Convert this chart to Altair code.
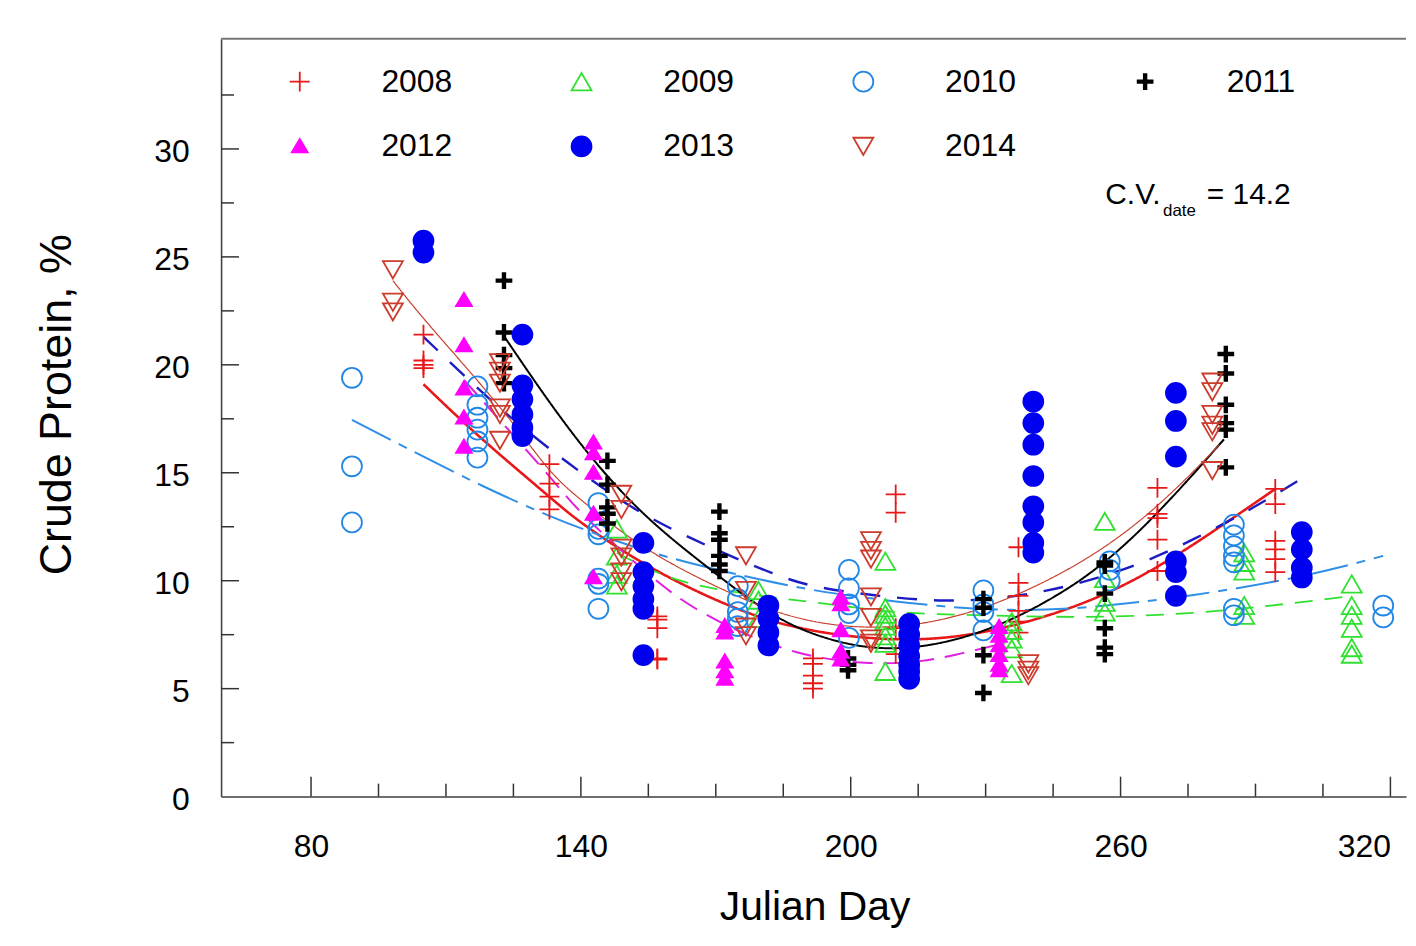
import altair as alt
import pandas as pd

FONT = "Liberation Sans"
YEARS = ["2008", "2009", "2010", "2011", "2012", "2013", "2014"]

# ---- observed data (Julian day, crude protein %) ----
DAY_2008 = [105, 133, 157, 191.6, 210, 237.3, 268.2, 294.4]
CP_2008 = [[21.4, 20.2, 20.0, 19.85], [15.4, 14.5, 13.9, 13.3], [8.35, 8.2, 7.8, 6.4, 6.35],
           [6.4, 6.15, 5.6, 5.25, 5.0], [14.0, 13.15, 7.8, 6.6], [11.55, 9.9, 9.3, 8.6, 8.1, 7.6],
           [14.3, 13.1, 12.9, 11.9, 10.45], [14.25, 13.55, 11.85, 11.45, 11.0, 10.4]]

DAY_2009 = [148, 179.5, 207.7, 235.8, 256.5, 287.5, 311.4]
CP_2009 = [[12.4, 11.15, 10.3, 9.8], [9.55, 9.1, 8.25], [10.9, 8.75, 8.45, 8.15, 7.9, 7.45, 7.1, 5.8],
           [8.1, 7.7, 7.3, 6.85, 5.7], [12.75, 10.1, 9.0, 8.55], [11.3, 10.85, 10.45, 8.85, 8.4],
           [9.85, 8.85, 8.4, 7.8, 6.9, 6.6]]

DAY_2010 = [89.1, 117, 143.9, 174.9, 199.6, 229.5, 257.6, 285.2, 318.4]
CP_2010 = [[19.4, 15.3, 12.7], [19.0, 18.15, 17.55, 17.0, 16.45, 15.7], [13.6, 12.4, 12.15, 10.1, 9.85, 8.7],
           [9.75, 9.15, 8.55, 8.25, 7.9], [10.5, 9.65, 8.9, 8.5, 7.35], [9.55, 8.9, 8.55, 7.7],
           [10.9, 10.5, 10.0], [12.6, 12.1, 11.6, 11.15, 10.85, 8.7, 8.4], [8.85, 8.3]]

DAY_2011 = [122.9, 145.9, 170.8, 199.4, 229.5, 256.5, 283.4]
CP_2011 = [[23.9, 21.5, 20.45, 19.85, 19.15], [15.55, 14.45, 13.4, 13.1, 12.65],
           [13.2, 12.2, 11.9, 11.15, 10.75, 10.45], [6.4, 6.1, 5.85], [9.15, 8.75, 6.55, 4.8],
           [10.85, 10.7, 9.4, 7.8, 6.9, 6.6], [20.5, 19.6, 18.15, 17.3, 17.0, 15.25]]

DAY_2012 = [114, 142.8, 172, 197.8, 233]
CP_2012 = [[23.0, 20.9, 18.9, 17.55, 16.2], [16.4, 15.9, 15.0, 13.1, 10.15], [7.9, 7.6, 6.25, 5.8, 5.45],
           [9.2, 8.9, 7.7, 6.7, 6.35], [7.85, 7.45, 7.0, 6.55, 6.1, 5.85]]

DAY_2013 = [105, 127, 153.9, 181.7, 213, 240.6, 272.3, 300.3]
CP_2013 = [[25.75, 25.2], [21.4, 19.05, 18.4, 17.7, 17.1, 16.7], [11.75, 10.4, 9.75, 9.15, 8.7, 6.55],
           [8.85, 8.25, 7.6, 7.0], [8.0, 7.5, 7.0, 6.5, 6.1, 5.8, 5.45],
           [18.3, 17.3, 16.3, 14.85, 13.45, 12.7, 11.75, 11.3], [18.7, 17.4, 15.75, 10.9, 10.4, 9.3],
           [12.25, 11.45, 10.6, 10.15]]

DAY_2014 = [98.2, 122, 149, 176.7, 204.5, 239.5, 280.4]
CP_2014 = [[24.4, 22.9, 22.45], [20.1, 19.7, 19.15, 18.0, 17.7, 16.5], [14.0, 13.3, 11.5, 11.1, 10.4, 9.95],
           [11.15, 9.55, 7.85, 7.45], [11.85, 11.4, 11.0, 9.25, 8.3, 7.3, 7.1], [6.15, 5.85, 5.6],
           [19.2, 18.75, 17.7, 17.2, 16.9, 15.1]]

# ---- fitted curves ----
FIT_DAY_2008 = [105, 117, 133, 139, 154, 172, 188, 210, 229, 252, 268, 281.5, 294.4]
FIT_CP_2008 = [19.1, 16.7, 13.9, 12.8, 10.7, 8.85, 7.7, 7.15, 7.45, 8.85, 10.55, 12.4, 14.25]
FIT_DAY_2009 = [148, 157.5, 168.6, 187.5, 201.8, 210, 229, 251, 276.3, 300.3, 311.4]
FIT_CP_2009 = [11.3, 10.25, 9.6, 9.1, 8.75, 8.5, 8.4, 8.28, 8.45, 9.0, 9.3]
FIT_DAY_2010 = [89.1, 100.7, 117.7, 136.9, 157.5, 172.3, 190.8, 205.5, 220, 235, 252, 276.3, 300.3, 318.4]
FIT_CP_2010 = [17.45, 16.2, 14.4, 12.6, 11.15, 10.4, 9.55, 9.15, 8.8, 8.6, 8.7, 9.3, 10.15, 11.15]
FIT_DAY_2011 = [123, 138, 153, 168.6, 183.4, 197, 210, 229, 252, 268, 283]
FIT_CP_2011 = [21.3, 16.7, 13.1, 10.55, 8.15, 7.1, 6.7, 7.4, 9.9, 13.0, 16.55]
FIT_DAY_2012 = [114, 126, 134, 140, 150, 160, 170, 188, 205, 216, 223, 232]
FIT_CP_2012 = [19.3, 16.5, 14.6, 13.1, 11.2, 9.4, 8.1, 6.5, 6.1, 6.25, 6.55, 7.0]
FIT_DAY_2013 = [105, 122, 137, 152.4, 168.6, 183.4, 191.5, 205.5, 221, 235, 248.3, 263.8, 276.3, 290.3, 300]
FIT_CP_2013 = [21.3, 17.9, 15.45, 13.15, 11.55, 10.25, 9.7, 9.3, 9.0, 9.2, 9.7, 10.7, 11.9, 13.45, 14.7]
FIT_DAY_2014 = [98.2, 105, 123, 133, 139, 154, 172, 188, 208, 229, 252, 268, 282]
FIT_CP_2014 = [23.9, 22.1, 17.9, 15.0, 13.9, 11.4, 9.5, 8.1, 7.65, 8.5, 10.8, 13.3, 16.3]

X_LABELS = [80, 140, 200, 260, 320]
X_MINOR = [95, 110, 125, 155, 170, 185, 215, 230, 245, 275, 290, 305]
Y_LABELS = [0, 5, 10, 15, 20, 25, 30]
Y_MAJOR = [5, 10, 15, 20, 25, 30]
Y_MINOR = [2.5, 7.5, 12.5, 17.5, 22.5, 27.5, 32.5]

# ---- styles ----
PLUS_THIN = "M-1,0L1,0M0,-1L0,1"
PLUS_THICK = ("M-0.75,-0.13L-0.13,-0.13L-0.13,-0.75L0.13,-0.75L0.13,-0.13L0.75,-0.13"
              "L0.75,0.13L0.13,0.13L0.13,0.75L-0.13,0.75L-0.13,0.13L-0.75,0.13Z")
TRI_SMALL = "M0,-0.74L0.8,0.6L-0.8,0.6Z"
SHAPES = [PLUS_THIN, "triangle-up", "circle", PLUS_THICK, TRI_SMALL, "circle", "triangle-down"]
FILLS = ["transparent", "transparent", "transparent", "#000000", "#FF00FF", "#0000F0", "transparent"]
STROKES = ["#E81818", "#30E030", "#2187E7", "#000000", "#FF00FF", "#0000F0", "#CC3B2B"]
LINE_STYLE = {
    "2008": dict(color="#E81818", strokeWidth=2.6, strokeDash=[1, 0]),
    "2009": dict(color="#30E030", strokeWidth=1.8, strokeDash=[18, 12]),
    "2010": dict(color="#2F8FE6", strokeWidth=2.0, strokeDash=[44, 9, 9, 9]),
    "2011": dict(color="#000000", strokeWidth=2.0, strokeDash=[1, 0]),
    "2012": dict(color="#E020E0", strokeWidth=2.0, strokeDash=[20, 11]),
    "2013": dict(color="#1C1CC4", strokeWidth=2.4, strokeDash=[20, 17]),
    "2014": dict(color="#C8402E", strokeWidth=1.2, strokeDash=[1, 0]),
}

obs = {"2008": (DAY_2008, CP_2008), "2009": (DAY_2009, CP_2009), "2010": (DAY_2010, CP_2010),
       "2011": (DAY_2011, CP_2011), "2012": (DAY_2012, CP_2012), "2013": (DAY_2013, CP_2013),
       "2014": (DAY_2014, CP_2014)}
fits = {"2008": (FIT_DAY_2008, FIT_CP_2008), "2009": (FIT_DAY_2009, FIT_CP_2009),
        "2010": (FIT_DAY_2010, FIT_CP_2010), "2011": (FIT_DAY_2011, FIT_CP_2011),
        "2012": (FIT_DAY_2012, FIT_CP_2012), "2013": (FIT_DAY_2013, FIT_CP_2013),
        "2014": (FIT_DAY_2014, FIT_CP_2014)}

rows = []
for yr in YEARS:
    days, groups = obs[yr]
    for d, vals in zip(days, groups):
        for v in vals:
            rows.append({"year": yr, "day": d, "cp": v})
pts = pd.DataFrame(rows)

frows = []
for yr in YEARS:
    for d, v in zip(*fits[yr]):
        frows.append({"year": yr, "day": d, "cp": v})
fit_df = pd.DataFrame(frows)

# ---- layout ----
W, H = 1190, 761
PX_PER_DAY = 271 / 60
X_MIN = 60
X_MAX = X_MIN + W / PX_PER_DAY

xscale = alt.Scale(domain=[X_MIN, X_MAX], nice=False, zero=False)
yscale = alt.Scale(domain=[0, 35.1], nice=False, zero=False)

xaxis = alt.Axis(values=X_LABELS, ticks=False, tickSize=0, grid=False, domainColor="#6E6E6E",
                 domainWidth=2, labelFontSize=32, labelFont=FONT, labelColor="black",
                 labelPadding=35, labelFlush=16, labelOverlap=False,
                 title="Julian Day", titleFont=FONT, titleFontSize=41, titleFontWeight="normal",
                 titleColor="black", titleX=596, titleY=123, titleAlign="center",
                 titleBaseline="alphabetic")
yaxis = alt.Axis(values=Y_LABELS, ticks=False, tickSize=0, grid=False, domainColor="#444444",
                 domainWidth=1.6, labelFontSize=32, labelFont=FONT, labelColor="black",
                 labelPadding=32, labelOffset=3, labelFlush=False, labelOverlap=False,
                 title="Crude Protein, %", titleFont=FONT, titleFontSize=45,
                 titleFontWeight="normal", titleColor="black", titleAngle=270,
                 titleX=-165, titleY=367, titleAlign="center", titleBaseline="middle")

X = alt.X("day:Q", scale=xscale, axis=xaxis)
Y = alt.Y("cp:Q", scale=yscale, axis=yaxis)

leg = alt.Legend(title=None, orient="none", legendX=63, legendY=27, direction="horizontal",
                 columns=4, symbolSize=400, symbolStrokeWidth=1.8, symbolOpacity=1,
                 labelFontSize=32, labelFont=FONT, labelColor="black", labelOffset=66,
                 columnPadding=113, rowPadding=33, padding=0)

layers = []
for yr in YEARS:
    st = LINE_STYLE[yr]
    layers.append(
        alt.Chart(fit_df).transform_filter(alt.datum.year == yr)
        .mark_line(interpolate="basis", clip=True, **st)
        .encode(x=X, y=Y)
    )

points = alt.Chart(pts).mark_point(opacity=1, strokeWidth=1.8, size=400, clip=True).encode(
    x=X, y=Y,
    shape=alt.Shape("year:N", scale=alt.Scale(domain=YEARS, range=SHAPES), legend=leg),
    fill=alt.Fill("year:N", scale=alt.Scale(domain=YEARS, range=FILLS), legend=leg),
    stroke=alt.Stroke("year:N", scale=alt.Scale(domain=YEARS, range=STROKES), legend=leg),
)
layers.append(points)

tick_col = "#333333"
layers.append(alt.Chart(pd.DataFrame({"day": X_LABELS})).mark_rule(color=tick_col, strokeWidth=1.5)
              .encode(x=X, y=alt.value(H), y2=alt.value(H - 20)))
layers.append(alt.Chart(pd.DataFrame({"day": X_MINOR})).mark_rule(color=tick_col, strokeWidth=1.5)
              .encode(x=X, y=alt.value(H), y2=alt.value(H - 13)))
layers.append(alt.Chart(pd.DataFrame({"cp": Y_MAJOR})).mark_rule(color=tick_col, strokeWidth=1.5)
              .encode(y=Y, x=alt.value(0), x2=alt.value(18)))
layers.append(alt.Chart(pd.DataFrame({"cp": Y_MINOR})).mark_rule(color=tick_col, strokeWidth=1.5)
              .encode(y=Y, x=alt.value(0), x2=alt.value(13)))

one = pd.DataFrame({"k": [0]})
layers.append(alt.Chart(one).mark_rule(color="#777777", strokeWidth=2)
              .encode(x=alt.value(0), x2=alt.value(W), y=alt.value(0)))

layers.append(alt.Chart(one).mark_text(text="C.V.", font=FONT, fontSize=30, align="left",
                                       baseline="alphabetic", color="black")
              .encode(x=alt.value(888), y=alt.value(166)))
layers.append(alt.Chart(one).mark_text(text="date", font=FONT, fontSize=17, align="left",
                                       baseline="alphabetic", color="black")
              .encode(x=alt.value(946), y=alt.value(178)))
layers.append(alt.Chart(one).mark_text(text="= 14.2", font=FONT, fontSize=30, align="left",
                                       baseline="alphabetic", color="black")
              .encode(x=alt.value(990), y=alt.value(166)))

chart = alt.layer(*layers).properties(
    width=W, height=H,
    autosize=alt.AutoSizeParams(type="none"),
    padding={"left": 214, "top": 29, "right": 2, "bottom": 134},
).configure_view(stroke=None)

chart.save("out.html", embed_options={"renderer": "svg", "actions": False})
